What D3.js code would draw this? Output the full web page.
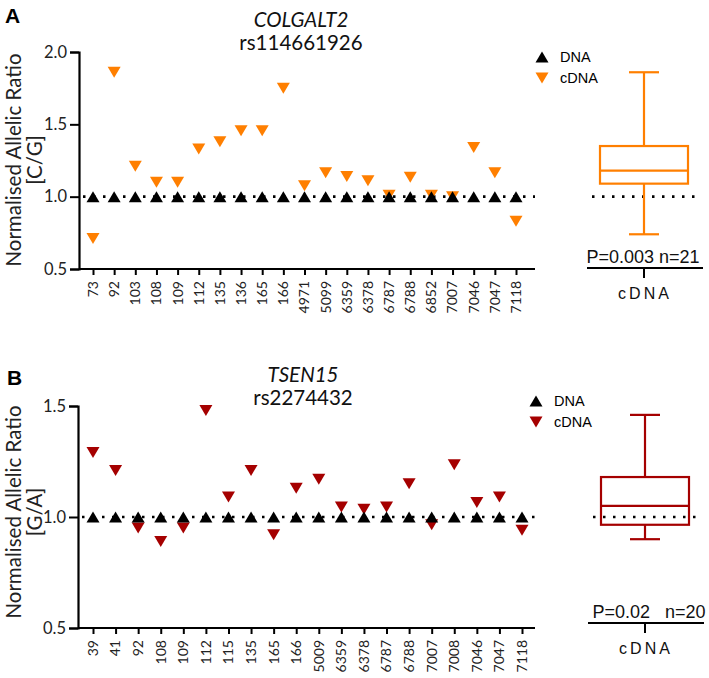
<!DOCTYPE html>
<html><head><meta charset="utf-8">
<script src="https://cdn.jsdelivr.net/npm/d3@7/dist/d3.min.js"></script>
<style>body{margin:0;background:#fff}svg{display:block}</style>
</head><body>
<script>
// ---- data ----
const samplesA = ["73","92","103","108","109","112","135","136","165","166","4971","5099","6359","6378","6787","6788","6852","7007","7046","7047","7118"];
const dnaA  = [1,1,1,1,1,1,1,1,1,1,1,1,1,1,1,1,1,1,1,1,1];
const cdnaA = [0.71,1.86,1.21,1.10,1.10,1.33,1.38,1.455,1.455,1.75,1.076,1.165,1.14,1.11,1.01,1.135,1.01,1.0,1.34,1.165,0.83];
const boxA  = [0.74,1.09,1.18,1.35,1.86]; // min, q1, median, q3, max
const ticksA = [0.5,1.0,1.5,2.0];

const samplesB = ["39","41","92","108","109","112","115","135","165","166","5009","6359","6378","6787","6788","7007","7008","7046","7047","7118"];
const dnaB  = [1,1,1,1,1,1,1,1,1,1,1,1,1,1,1,1,1,1,1,1];
const cdnaB = [1.29,1.21,0.95,0.89,0.95,1.48,1.09,1.21,0.92,1.13,1.17,1.045,1.035,1.045,1.15,0.965,1.235,1.065,1.09,0.94];
const boxB  = [0.90,0.965,1.05,1.18,1.46];
const ticksB = [0.5,1.0,1.5];

const W = 709, H = 678;
const svg = d3.select("body").append("svg").attr("width", W).attr("height", H);
const FONT = "Lato, 'Open Sans', sans-serif";
const ARIAL = "'Liberation Sans', Arial, sans-serif";

function tri(up, cx, cy, hw, h) {
  const p = d3.path();
  if (up) { p.moveTo(cx, cy - h/2); p.lineTo(cx + hw, cy + h/2); p.lineTo(cx - hw, cy + h/2); }
  else { p.moveTo(cx - hw, cy - h/2); p.lineTo(cx + hw, cy - h/2); p.lineTo(cx, cy + h/2); }
  p.closePath();
  return p.toString();
}

function panel(cfg) {
  const g = svg.append("g");
  const y = d3.scaleLinear().domain(cfg.yDomain).range(cfg.yRange);
  const x = d3.scalePoint().domain(cfg.samples).range(cfg.xRange);
  const axisY = cfg.yRange[0];

  // y axis
  const ya = g.append("g").attr("transform", `translate(${cfg.axisX},0)`)
    .call(d3.axisLeft(y).tickValues(cfg.ticks).tickFormat(d3.format(".1f")).tickSizeOuter(0).tickSize(9).tickPadding(3));
  ya.select(".domain").attr("stroke", "#000").attr("stroke-width", 2.2);
  ya.selectAll(".tick line").attr("stroke-width", 2);
  ya.selectAll(".tick text").attr("font-family", FONT).attr("font-size", 16.5).attr("fill", "#222");

  // x axis
  const xa = g.append("g").attr("transform", `translate(0,${axisY})`)
    .call(d3.axisBottom(x).tickSize(6).tickSizeOuter(0).tickFormat(""));
  xa.select(".domain").attr("d", `M${cfg.axisX},0H${cfg.axisEnd}`).attr("stroke", "#000").attr("stroke-width", 2.2);
  xa.selectAll(".tick line").attr("stroke-width", 2);
  g.selectAll(".xl").data(cfg.samples).join("text")
    .attr("transform", d => `translate(${x(d)},${axisY + 12}) rotate(-90)`)
    .attr("text-anchor", "end").attr("dy", "0.35em")
    .attr("font-family", FONT).attr("font-size", 14).attr("fill", "#222")
    .text(d => d);

  // reference dotted line
  g.append("line").attr("x1", cfg.axisX + 4).attr("x2", cfg.axisEnd).attr("y1", y(1)).attr("y2", y(1))
    .attr("stroke", "#000").attr("stroke-width", 2.6).attr("stroke-dasharray", "2.5,7.5");

  // cDNA (down) then DNA (up)
  g.selectAll(".c").data(cfg.cdna).join("path")
    .attr("d", (d, i) => tri(false, x(cfg.samples[i]), y(d), 6.5, 11)).attr("fill", cfg.color);
  g.selectAll(".d").data(cfg.dna).join("path")
    .attr("d", (d, i) => tri(true, x(cfg.samples[i]), y(d), 6.5, 11)).attr("fill", "#000");

  // y label
  const yl = g.append("text").attr("transform", `translate(${cfg.labelX},${cfg.labelY}) rotate(-90)`)
    .attr("text-anchor", "middle").attr("font-family", FONT).attr("font-size", 20.5).attr("fill", "#222");
  yl.append("tspan").attr("x", 0).attr("dy", 0).text("Normalised Allelic Ratio");
  yl.append("tspan").attr("x", 0).attr("dy", 21).text(cfg.alleles);

  // panel letter
  g.append("text").attr("x", cfg.letterX).attr("y", cfg.letterY).attr("font-family", ARIAL)
    .attr("font-weight", "bold").attr("font-size", 21).text(cfg.letter);

  // titles
  g.append("text").attr("x", cfg.titleX).attr("y", cfg.titleY).attr("text-anchor", "middle")
    .attr("font-family", FONT).attr("font-style", "italic").attr("font-size", 20.5).attr("fill", "#111").text(cfg.gene);
  g.append("text").attr("x", cfg.titleX).attr("y", cfg.titleY + 23).attr("text-anchor", "middle")
    .attr("font-family", FONT).attr("font-size", 20.5).attr("fill", "#111").text(cfg.snp);

  // legend
  const lg = g.append("g");
  lg.append("path").attr("d", tri(true, cfg.legX, cfg.legY, 6.5, 11)).attr("fill", "#000");
  lg.append("path").attr("d", tri(false, cfg.legX, cfg.legY + 21, 6.5, 11)).attr("fill", cfg.color);
  lg.append("text").attr("x", cfg.legX + 18).attr("y", cfg.legY).attr("dy", "0.35em")
    .attr("font-family", ARIAL).attr("font-size", 14.5).text("DNA");
  lg.append("text").attr("x", cfg.legX + 18).attr("y", cfg.legY + 21).attr("dy", "0.35em")
    .attr("font-family", ARIAL).attr("font-size", 14.5).text("cDNA");

  // box plot
  const bx = cfg.boxX, hw = 44, cap = 15;
  const [mn, q1, md, q3, mx] = cfg.box;
  const bg = g.append("g").attr("stroke", cfg.color).attr("stroke-width", 2.2).attr("fill", "none");
  g.insert("line", () => bg.node()).attr("x1", bx - 52).attr("x2", bx + 58).attr("y1", y(1)).attr("y2", y(1))
    .attr("stroke", "#000").attr("stroke-width", 2.6).attr("stroke-dasharray", "2.5,7.5");
  bg.append("line").attr("x1", bx).attr("x2", bx).attr("y1", y(mx)).attr("y2", y(q3));
  bg.append("line").attr("x1", bx).attr("x2", bx).attr("y1", y(q1)).attr("y2", y(mn));
  bg.append("line").attr("x1", bx - cap).attr("x2", bx + cap).attr("y1", y(mx)).attr("y2", y(mx));
  bg.append("line").attr("x1", bx - cap).attr("x2", bx + cap).attr("y1", y(mn)).attr("y2", y(mn));
  bg.append("rect").attr("x", bx - hw).attr("width", 2 * hw).attr("y", y(q3)).attr("height", y(q1) - y(q3));
  bg.append("line").attr("x1", bx - hw).attr("x2", bx + hw).attr("y1", y(md)).attr("y2", y(md));

  // box axis
  g.append("line").attr("x1", bx - 57).attr("x2", bx + 59).attr("y1", cfg.boxAxisY).attr("y2", cfg.boxAxisY)
    .attr("stroke", "#000").attr("stroke-width", 2.2);
  g.append("line").attr("x1", bx).attr("x2", bx).attr("y1", cfg.boxAxisY).attr("y2", cfg.boxAxisY + 10)
    .attr("stroke", "#000").attr("stroke-width", 2);
  g.append("text").attr("x", cfg.pX).attr("y", cfg.boxAxisY - 5).attr("text-anchor", "middle")
    .attr("font-family", ARIAL).attr("font-size", 18).style("white-space", "pre").attr("fill", "#111").text(cfg.pText);
  g.append("text").attr("x", bx + 1).attr("y", cfg.boxAxisY + 31).attr("text-anchor", "middle")
    .attr("font-family", ARIAL).attr("font-size", 16).attr("letter-spacing", 3).attr("fill", "#111").text("cDNA");
}

panel({
  samples: samplesA, dna: dnaA, cdna: cdnaA, box: boxA, ticks: ticksA,
  yDomain: [0.5, 2.0], yRange: [269, 52], xRange: [93, 516], axisX: 79, axisEnd: 535,
  color: "#FF7F00", alleles: "[C/G]", labelX: 21, labelY: 160,
  letter: "A", letterX: 5, letterY: 23, gene: "COLGALT2", snp: "rs114661926", titleX: 301, titleY: 27,
  legX: 542, legY: 57, boxX: 644, boxAxisY: 268, pX: 643, pText: "P=0.003 n=21"
});
panel({
  samples: samplesB, dna: dnaB, cdna: cdnaB, box: boxB, ticks: ticksB,
  yDomain: [0.5, 1.5], yRange: [628, 406], xRange: [93, 522], axisX: 78, axisEnd: 535,
  color: "#A50000", alleles: "[G/A]", labelX: 21, labelY: 512,
  letter: "B", letterX: 7, letterY: 385, gene: "TSEN15", snp: "rs2274432", titleX: 303, titleY: 382,
  legX: 536, legY: 401, boxX: 645, boxAxisY: 623, pX: 649, pText: "P=0.02   n=20"
});
</script>
</body></html>
